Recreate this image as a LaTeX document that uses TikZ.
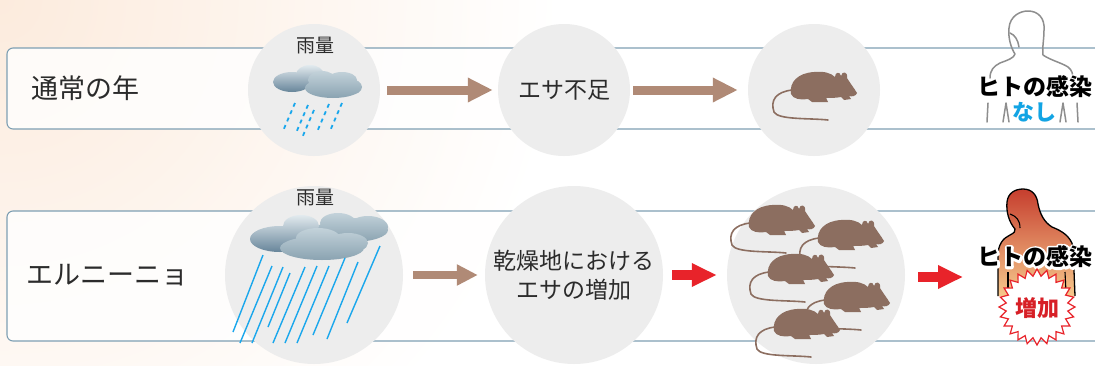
\documentclass[tikz,border=0pt]{standalone}
\usepackage{fontspec}
\newfontfamily\jp{Noto Sans CJK JP}
\usetikzlibrary{arrows.meta,calc}

\definecolor{bgpeach}{HTML}{FCEBDD}
\definecolor{framecol}{HTML}{7E9FB3}
\definecolor{discgray}{HTML}{EDEDED}
\definecolor{ink}{HTML}{2B2B2B}
\definecolor{ratbrown}{HTML}{8C6E60}
\definecolor{brownarrow}{HTML}{B08A76}
\definecolor{redarrow}{HTML}{E8232A}
\definecolor{raincol}{HTML}{1AA7EC}
\definecolor{cloudhi}{HTML}{E2EAEE}
\definecolor{cloudlo}{HTML}{67859A}
\definecolor{cloudmid}{HTML}{C3D2DA}
\definecolor{cloudlo2}{HTML}{8AA3B1}
\definecolor{figgray}{HTML}{8E8E8E}
\definecolor{skinhi}{HTML}{C63E2E}
\definecolor{skinlo}{HTML}{F6C98C}
\definecolor{nashicol}{HTML}{12A4E4}
\definecolor{zokacol}{HTML}{D71F26}

% text with a white stroked outline underneath the filled glyphs
\newcommand\haloed[1]{%
  \special{pdf:code 1 Tr 4.6 w 1 j 1 J 1 1 1 RG}\rlap{#1}\special{pdf:code 0 Tr}#1}

\tikzset{
  rowbox/.style={draw=framecol, line width=1.1pt, rounded corners=6pt, fill=white, fill opacity=0.8},
  stage/.style={circle, fill=discgray, inner sep=0pt, text=ink, align=center,
    font=\jp\fontsize{23}{29}\selectfont},
  rowlabel/.style={anchor=west, inner sep=0pt, text=ink, font=\jp\fontsize{27}{30}\selectfont},
  rainlabel/.style={inner sep=0pt, text=ink, font=\jp\fontsize{19}{22}\selectfont},
  figlabel/.style={inner sep=0pt, text=black, font=\jp\bfseries\fontsize{23}{26}\selectfont},
  flowbrown/.style={draw=brownarrow, line width=9pt, -{Triangle[length=25pt,width=23pt]}},
  flowbrownsmall/.style={draw=brownarrow, line width=8pt, -{Triangle[length=21pt,width=20pt]}},
  flowred/.style={draw=redarrow, line width=10pt, -{Triangle[length=25pt,width=22pt]}},
  drop/.style={draw=raincol, line width=1.8pt, dash pattern=on 4pt off 4pt},
  streak/.style={draw=raincol, line width=1.4pt},
  figline/.style={draw=figgray, line width=1.5pt, line cap=round, line join=round},
  burst/.style={draw=redarrow, fill=white, line width=1.2pt, line join=miter},
  rat/.pic={
    \draw[ratbrown, line width=1.6pt, line cap=round]
      (2,20) .. controls (-14,22) and (-20,30) .. (-16,42)
             .. controls (-12,50) and (20,48) .. (38,50);
    \fill[ratbrown]
      (1,24) .. controls (-1,12) and (8,3) .. (24,2)
      .. controls (34,1) and (41,3) .. (45,7)
      .. controls (45,2) and (50,1) .. (51,6)
      .. controls (52,1) and (58,1) .. (57,8)
      .. controls (60,13) and (64,18) .. (67,23)
      .. controls (66,26) and (62,27) .. (59,26)
      -- (61,29) -- (54,30) -- (51,27)
      .. controls (46,28) and (40,28) .. (36,28)
      -- (38,32) -- (22,32) -- (18,29)
      .. controls (10,30) and (3,29) .. (1,24) -- cycle;
  }
}

\begin{document}
\begin{tikzpicture}[x=1pt,y=-1pt]
\useasboundingbox (0,0) rectangle (1095,365);
\clip (0,0) rectangle (1095,365);

% soft warm backdrop
\fill[white] (0,0) rectangle (1095,365);
\shade[inner color=bgpeach, outer color=white] (0,0) circle (560pt);

% the two rows
\draw[rowbox] (7,48) rectangle (1120,129);
\draw[rowbox] (7,211) rectangle (1120,341);

\node[rowlabel] (l1) at (31,88) {通常の年};
\node[rowlabel] (l2) at (26,275) {エルニーニョ};

% stage discs
\node[stage, minimum size=132pt] (c1) at (314,90) {};
\node[stage, minimum size=132pt] (c2) at (564,90) {エサ不足};
\node[stage, minimum size=132pt] (c3) at (814,90) {};
\node[stage, minimum size=178pt] (b1) at (314,275) {};
\node[stage, minimum size=178pt] (b2) at (574,275) {乾燥地における\\エサの増加};
\node[stage, minimum size=178pt] (b3) at (816,275) {};

\node[rainlabel] (r1) at (315,46) {雨量};
\node[rainlabel] (r2) at (315,198) {雨量};

% normal-year cloud and drizzle
\shade[top color=cloudhi, bottom color=cloudlo]
  (292,82) ellipse [x radius=19pt, y radius=10pt]
  (310,75) ellipse [x radius=14pt, y radius=10pt];
\shade[top color=cloudmid, bottom color=cloudlo2]
  (333,88) ellipse [x radius=28pt, y radius=10pt]
  (322,80) ellipse [x radius=14pt, y radius=9pt]
  (342,80) ellipse [x radius=15pt, y radius=8pt]
  (350,87) ellipse [x radius=12pt, y radius=8pt];
\draw[drop] (295,103) -- (283,131);
\draw[drop] (308,105) -- (296,133);
\draw[drop] (314,110) -- (302,138);
\draw[drop] (329,104) -- (317,132);
\draw[drop] (342,103) -- (330,131);

% El Nino cloud and heavy rain
\shade[top color=cloudmid, bottom color=cloudlo2]
  (352,230) ellipse [x radius=36pt, y radius=12pt]
  (368,227) ellipse [x radius=20pt, y radius=11pt]
  (338,223) ellipse [x radius=18pt, y radius=10pt];
\shade[top color=cloudhi, bottom color=cloudlo]
  (280,239) ellipse [x radius=30pt, y radius=13pt]
  (301,226) ellipse [x radius=18pt, y radius=11pt];
\shade[top color=cloudmid, bottom color=cloudlo2]
  (322,248) ellipse [x radius=42pt, y radius=12pt]
  (318,238) ellipse [x radius=22pt, y radius=10pt]
  (348,243) ellipse [x radius=20pt, y radius=10pt];
\draw[streak] (263,255) -- (233,332);
\draw[streak] (272,266) -- (240,343);
\draw[streak] (283,267) -- (252,343);
\draw[streak] (290,273) -- (268,327);
\draw[streak] (305,267) -- (273,343);
\draw[streak] (317,266) -- (285,343);
\draw[streak] (329,266) -- (297,343);
\draw[streak] (345,258) -- (313,335);
\draw[streak] (358,262) -- (327,339);
\draw[streak] (380,246) -- (347,323);

% rodents
\pic at (790,70) {rat};
\pic at (748,203) {rat};
\pic at (817,218) {rat};
\pic at (767,252) {rat};
\pic at (823,280) {rat};
\pic at (773,307) {rat};

% flow arrows
\coordinate (h2) at (963,277);
\draw[flowbrown, shorten <=7pt, shorten >=5pt] (c1.east) -- (c2.west);
\draw[flowbrown, shorten <=3pt, shorten >=10pt] (c2.east) -- (c3.west);
\draw[flowbrownsmall, shorten <=10pt, shorten >=7pt] (b1.east) -- (b2.west);
\draw[flowred, shorten <=9pt, shorten >=10pt] (b2.east) -- (b3.west);
\draw[flowred, shorten <=13pt] (b3.east |- h2) -- (h2);

% person, normal year
\draw[figline] (990,78) .. controls (990,70) and (994,66) .. (1000,63)
  .. controls (1008,60) and (1014,58) .. (1015,54)
  .. controls (1011,48) and (1008,38) .. (1009,28)
  .. controls (1010,16) and (1020,11) .. (1028,11)
  .. controls (1038,11) and (1045,18) .. (1044,30)
  .. controls (1044,40) and (1042,48) .. (1043,55)
  .. controls (1050,60) and (1062,63) .. (1068,67)
  .. controls (1072,70) and (1073,74) .. (1073,79);
\draw[figline] (1010,33) .. controls (1015,35) and (1018,40) .. (1019,47);
\draw[figline] (988,103) -- (987,122);
\draw[figline] (1003,122) -- (1006,103) -- (1009,122);
\draw[figline] (1060,122) -- (1063,103) -- (1066,122);
\draw[figline] (1077,103) -- (1078,122);
\node[figlabel] (t1) at (1035,87) {\haloed{ヒトの感染}};
\node[figlabel, text=nashicol, font=\jp\bfseries\fontsize{22}{24}\selectfont] (t2) at (1034,112) {\haloed{なし}};

% person, El Nino year
\shade[top color=skinhi, bottom color=skinlo]
  (998,296) -- (998,255) .. controls (998,245) and (1003,238) .. (1010,235)
  .. controls (1014,233) and (1016,231) .. (1015,229)
  .. controls (1009,222) and (1006,212) .. (1007,202)
  .. controls (1008,193) and (1015,189) .. (1023,189)
  .. controls (1032,189) and (1037,195) .. (1038,204)
  .. controls (1040,214) and (1044,222) .. (1052,227)
  .. controls (1062,231) and (1070,236) .. (1073,246)
  -- (1075,296) -- cycle;
\draw[black, line width=1.3pt, line join=round]
  (998,296) -- (998,255) .. controls (998,245) and (1003,238) .. (1010,235)
  .. controls (1014,233) and (1016,231) .. (1015,229)
  .. controls (1009,222) and (1006,212) .. (1007,202)
  .. controls (1008,193) and (1015,189) .. (1023,189)
  .. controls (1032,189) and (1037,195) .. (1038,204)
  .. controls (1040,214) and (1044,222) .. (1052,227)
  .. controls (1062,231) and (1070,236) .. (1073,246)
  -- (1075,296);
\draw[black, line width=1.1pt] (1010,214) .. controls (1016,216) and (1020,220) .. (1020,228);
\draw[black, line width=1.1pt] (1008,272) -- (1008,292);
\draw[black, line width=1.1pt] (1065,272) -- (1066,292);
\node[figlabel] (t3) at (1035,257) {\haloed{ヒトの感染}};

\coordinate (sc) at (1037,307);
\draw[burst] ($(sc)+(0:38pt)$)
  \foreach \i [evaluate=\i as \r using {31+7*mod(\i+1,2)}] in {1,...,47} { -- ($(sc)+({\i*7.5}:{\r pt})$) } -- cycle;
\node[figlabel, text=zokacol, font=\jp\bfseries\fontsize{22}{24}\selectfont] (t4) at (1037,308) {増加};
\end{tikzpicture}
\end{document}
